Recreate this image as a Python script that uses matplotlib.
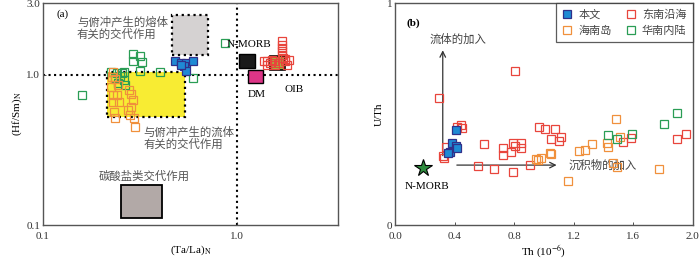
import matplotlib.pyplot as plt
import matplotlib.patches as mpatches
from matplotlib.lines import Line2D

plt.rcParams['font.family'] = ['Liberation Serif', 'Noto Sans CJK SC']
plt.rcParams['mathtext.fontset'] = 'stix'
CJK = ['Noto Sans CJK SC', 'DejaVu Sans']

RED = '#e8453c'
ORANGE = '#f0903c'
GREEN = '#2a9d55'
BLUE = '#1f8ad4'
BLUE_EDGE = '#30308a'

# ---- panel (a): (Ta/La)N vs (Hf/Sm)N ----
a_green_x = [0.289, 0.289, 0.314, 0.325, 0.314, 0.398, 0.590, 0.224, 0.2405, 0.255,
             0.262, 0.250, 0.235, 0.262, 0.2435, 0.265, 0.159, 0.867]
a_green_y = [1.38, 1.24, 1.324, 1.215, 1.063, 1.047, 0.945, 1.047, 1.031, 1.031,
             1.047, 0.985, 0.955, 0.926, 0.884, 0.858, 0.728, 1.634]
a_orange_x = [0.227, 0.2296, 0.235, 0.2435, 0.224, 0.2296, 0.2405, 0.2465, 0.2296, 0.2775,
              0.284, 0.291, 0.284, 0.274, 0.281, 0.2323, 0.235, 0.294, 0.298]
a_orange_y = [0.970, 1.047, 0.940, 0.858, 0.832, 0.736, 0.736, 0.661, 0.661, 0.794,
              0.747, 0.681, 0.612, 0.584, 0.541, 0.567, 0.517, 0.517, 0.450]
a_blue_x = [0.479, 0.514, 0.546, 0.590, 0.533, 0.546, 0.514]
a_blue_y = [1.226, 1.197, 1.197, 1.226, 1.136, 1.063, 1.166]
a_red_x = [1.695, 1.695, 1.695, 1.695, 1.695, 1.726, 1.366, 1.422, 1.479, 1.539,
           1.570, 1.633, 1.767, 1.804, 1.767, 1.838, 1.510, 1.422]
a_red_y = [1.667, 1.585, 1.507, 1.430, 1.359, 1.291, 1.226, 1.226, 1.197, 1.226,
           1.166, 1.197, 1.226, 1.166, 1.273, 1.259, 1.259, 1.166]

# field boxes: x0, x1, y0, y1
melt_box = [0.462, 0.709, 1.36, 2.51]
fluid_box = [0.214, 0.540, 0.525, 1.036]
carb_box = [0.2515, 0.41, 0.111, 0.185]
nmorb_box = [1.016, 1.228, 1.109, 1.38]
dm_box = [1.13, 1.35, 0.88, 1.08]
oib_box = [1.468, 1.767, 1.08, 1.324]

# ---- panel (b): Th vs U/Th ----
b_red_x = [0.298, 0.806, 0.419, 0.442, 0.452, 0.342, 0.320, 0.331, 0.596, 0.728,
           0.728, 0.781, 0.795, 0.806, 0.846, 0.846, 0.558, 0.666, 0.795, 0.905,
           0.965, 1.010, 1.076, 1.048, 1.104, 1.119, 1.536, 1.589, 1.897, 1.958]
b_red_y = [0.574, 0.694, 0.443, 0.450, 0.436, 0.353, 0.311, 0.300, 0.363, 0.345,
           0.315, 0.331, 0.371, 0.356, 0.371, 0.345, 0.267, 0.252, 0.240, 0.270,
           0.443, 0.432, 0.432, 0.387, 0.380, 0.398, 0.372, 0.391, 0.386, 0.408]
b_orange_x = [1.485, 1.424, 1.435, 1.236, 1.276, 1.325, 1.513, 1.044, 1.048, 0.982,
              0.960, 0.945, 1.490, 1.468, 1.777, 1.162]
b_orange_y = [0.477, 0.368, 0.350, 0.335, 0.338, 0.363, 0.398, 0.323, 0.318, 0.303,
              0.293, 0.297, 0.263, 0.278, 0.251, 0.198]
b_green_x = [1.897, 1.806, 1.435, 1.493, 1.593]
b_green_y = [0.503, 0.455, 0.405, 0.387, 0.409]
b_blue_x = [0.407, 0.381, 0.411, 0.371, 0.417, 0.358]
b_blue_y = [0.428, 0.369, 0.354, 0.331, 0.345, 0.324]
nmorb_th = [0.188]
nmorb_uth = [0.258]

fig = plt.figure(figsize=(7, 2.6), dpi=100)
ax1 = fig.add_axes([0.0614, 0.1346, 0.4215, 0.8534])
ax2 = fig.add_axes([0.5643, 0.1346, 0.4250, 0.8534])

ms = 5.2
mew = 0.9


def hollow(ax, x, y, c):
    ax.plot(x, y, 's', ls='none', ms=ms, mfc='none', mec=c, mew=mew, zorder=5)


def box(ax, b, fc, ls='-', lw=1.2, z=2):
    ax.add_patch(mpatches.Rectangle((b[0], b[2]), b[1] - b[0], b[3] - b[2],
                                    facecolor=fc, edgecolor='k', ls=ls, lw=lw, zorder=z))


for ax in (ax1, ax2):
    for s in ax.spines.values():
        s.set_color('#555555')
        s.set_linewidth(1.0)
    ax.tick_params(direction='in', length=2, width=0.6, labelsize=8, colors='#333333')
    ax.tick_params(axis='x', pad=5)
    ax.tick_params(axis='y', pad=2)

# panel a
ax1.set_xscale('log')
ax1.set_yscale('log')
ax1.set_xlim(0.1, 3.3)
ax1.set_ylim(0.1, 3.0)
ax1.set_xticks([0.1, 1.0])
ax1.set_xticklabels(['0.1', '1.0'])
ax1.set_yticks([0.1, 1.0, 3.0])
ax1.set_yticklabels(['0.1', '1.0', '3.0'])
ax1.minorticks_off()
ax1.axhline(1.0, color='k', ls=':', lw=1.5, zorder=1)
ax1.axvline(1.0, color='k', ls=':', lw=1.5, zorder=1)

box(ax1, melt_box, '#d5d2d2', ls=':', lw=1.6)
box(ax1, fluid_box, '#f8ec33', ls=':', lw=1.6)
box(ax1, carb_box, '#b2a9a7', lw=1.3)
box(ax1, nmorb_box, '#1a1a1a', lw=1.0, z=3)
box(ax1, dm_box, '#dd3587', lw=1.0, z=3)
box(ax1, oib_box, '#95c83c', lw=1.2, z=3)

hollow(ax1, a_green_x, a_green_y, GREEN)
hollow(ax1, a_orange_x, a_orange_y, ORANGE)
hollow(ax1, a_red_x, a_red_y, RED)
ax1.plot(a_blue_x, a_blue_y, 's', ls='none', ms=ms, mfc=BLUE, mec=BLUE_EDGE, mew=mew, zorder=6)

ax1.text(0.118, 2.45, '(a)', fontsize=8)
ax1.text(0.1496, 2.04, '与俯冲产生的熔体\n有关的交代作用', family=CJK, fontsize=8.2,
         color='#555555', linespacing=1.1, va='center')
ax1.text(0.328, 0.38, '与俯冲产生的流体\n有关的交代作用', family=CJK, fontsize=8.2,
         color='#555555', linespacing=1.1, va='center')
ax1.text(0.1945, 0.212, '碳酸盐类交代作用', family=CJK, fontsize=8.2,
         color='#555555', va='center')
ax1.text(1.15, 1.60, 'N-MORB', fontsize=8, ha='center', va='center', zorder=7)
ax1.text(1.26, 0.74, 'DM', fontsize=8, ha='center', va='center')
ax1.text(1.95, 0.80, 'OIB', fontsize=8, ha='center', va='center')
ax1.set_xlabel('(Ta/La)$_\\mathrm{N}$', fontsize=8, labelpad=2)
ax1.set_ylabel('(Hf/Sm)$_\\mathrm{N}$', fontsize=8, labelpad=2)

# panel b
ax2.set_xlim(0, 2.0)
ax2.set_ylim(0, 1)
ax2.set_xticks([0.0, 0.4, 0.8, 1.2, 1.6, 2.0])
ax2.set_xticklabels(['0.0', '0.4', '0.8', '1.2', '1.6', '2.0'])
ax2.set_yticks([0, 1])
ax2.set_yticklabels(['0', '1'])

hollow(ax2, b_red_x, b_red_y, RED)
hollow(ax2, b_orange_x, b_orange_y, ORANGE)
hollow(ax2, b_green_x, b_green_y, GREEN)
ax2.plot(b_blue_x, b_blue_y, 's', ls='none', ms=ms, mfc=BLUE, mec=BLUE_EDGE, mew=mew, zorder=6)
ax2.plot(nmorb_th, nmorb_uth, '*', ms=13, mfc='#2e8b3e', mec='k', mew=0.8, zorder=6)

ax2.annotate('', xy=(0.321, 0.80), xytext=(0.321, 0.30),
             arrowprops=dict(arrowstyle='->', lw=0.9, color='#333333'), zorder=4)
ax2.annotate('', xy=(1.105, 0.27), xytext=(0.397, 0.27),
             arrowprops=dict(arrowstyle='->', lw=0.9, color='#333333'), zorder=4)
ax2.text(0.42, 0.838, '流体的加入', family=CJK, fontsize=8.2, color='#444444',
         ha='center', va='center')
ax2.text(1.17, 0.268, '沉积物的加入', family=CJK, fontsize=8.2, color='#444444',
         ha='left', va='center')
ax2.text(0.215, 0.175, 'N-MORB', fontsize=8, ha='center', va='center')
ax2.text(0.075, 0.90, '(b)', fontsize=8, fontweight='bold')
ax2.set_xlabel('Th (10$^{-6}$)', fontsize=8, labelpad=2)
ax2.set_ylabel('U/Th', fontsize=8, labelpad=2)

h = [Line2D([], [], marker='s', ls='none', ms=ms, mfc=BLUE, mec=BLUE_EDGE, mew=mew),
     Line2D([], [], marker='s', ls='none', ms=ms, mfc='none', mec=ORANGE, mew=mew),
     Line2D([], [], marker='s', ls='none', ms=ms, mfc='none', mec=RED, mew=mew),
     Line2D([], [], marker='s', ls='none', ms=ms, mfc='none', mec=GREEN, mew=mew)]
labels = ['本文', '海南岛', '东南沿海', '华南内陆']
leg = ax2.legend(h, labels, ncol=2, loc='upper right', borderaxespad=0, fancybox=False,
                 prop={'family': CJK, 'size': 8}, handletextpad=0.5, columnspacing=1.2,
                 handlelength=1.0, labelspacing=0.55, borderpad=0.55)
leg.get_frame().set_edgecolor('#333333')
leg.get_frame().set_linewidth(0.9)
for t in leg.get_texts():
    t.set_color('#444444')

fig.savefig('out.png', dpi=100)
